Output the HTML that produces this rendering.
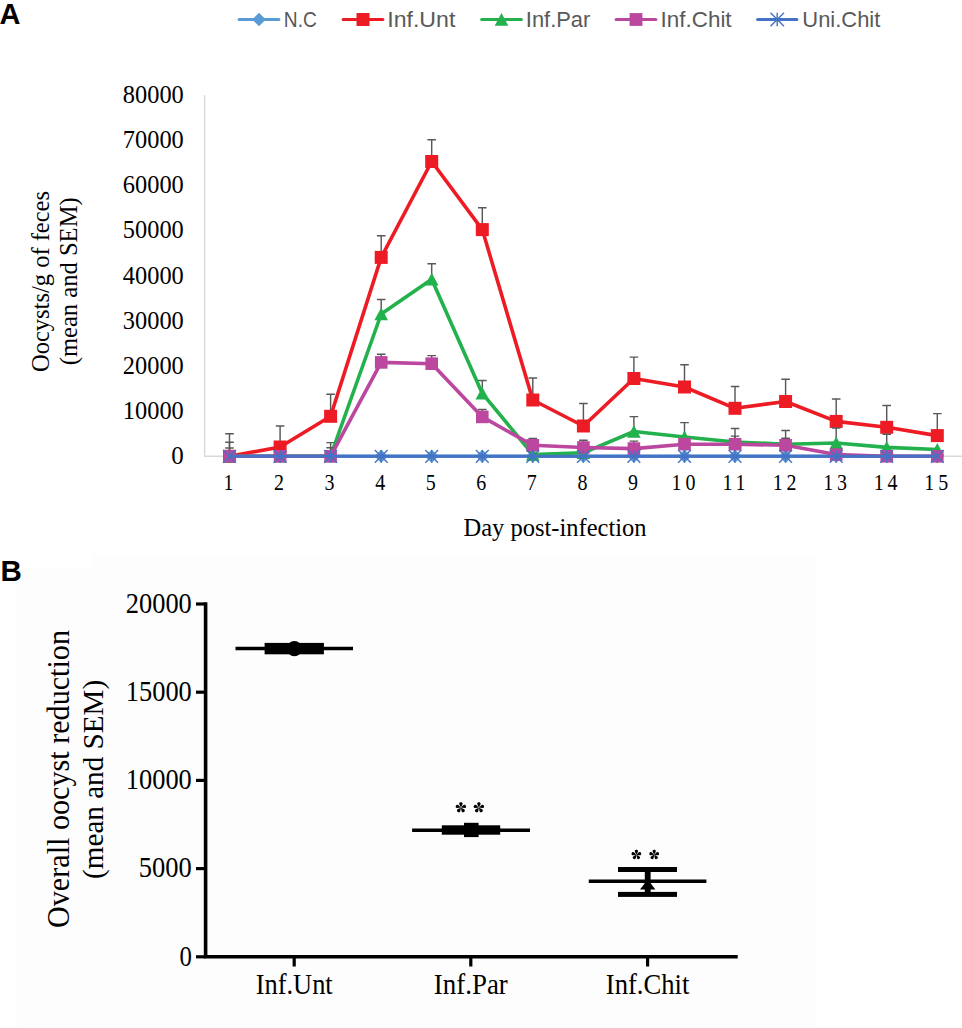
<!DOCTYPE html>
<html><head><meta charset="utf-8"><style>
html,body{margin:0;padding:0;background:#fff;}
body{width:962px;height:1028px;overflow:hidden;font-family:"Liberation Sans",sans-serif;}
svg{display:block;}
</style></head><body>
<svg width="962" height="1028" viewBox="0 0 962 1028">
<rect width="962" height="1028" fill="#fff"/>
<rect x="17" y="555.2" width="799.8" height="473" fill="#fdfdfd"/><rect x="0" y="540" width="92" height="29" fill="#fff"/><text x="0.6" y="580.6" font-family="Liberation Sans" font-size="29.5" fill="#000" font-weight="bold">B</text><path d="M205.6,602.3V956.8H737.7" stroke="#000" stroke-width="3.6" fill="none"/><line x1="196" y1="956.8" x2="205.6" y2="956.8" stroke="#000" stroke-width="3.2"/><text x="191.8" y="965.5" font-family="Liberation Serif" font-size="29.5" fill="#000" text-anchor="end" textLength="12.4" lengthAdjust="spacingAndGlyphs">0</text><line x1="196" y1="868.6" x2="205.6" y2="868.6" stroke="#000" stroke-width="3.2"/><text x="191.8" y="877.3" font-family="Liberation Serif" font-size="29.5" fill="#000" text-anchor="end" textLength="53" lengthAdjust="spacingAndGlyphs">5000</text><line x1="196" y1="780.4" x2="205.6" y2="780.4" stroke="#000" stroke-width="3.2"/><text x="191.8" y="789.1" font-family="Liberation Serif" font-size="29.5" fill="#000" text-anchor="end" textLength="66" lengthAdjust="spacingAndGlyphs">10000</text><line x1="196" y1="692.2" x2="205.6" y2="692.2" stroke="#000" stroke-width="3.2"/><text x="191.8" y="700.9" font-family="Liberation Serif" font-size="29.5" fill="#000" text-anchor="end" textLength="66" lengthAdjust="spacingAndGlyphs">15000</text><line x1="196" y1="604.0" x2="205.6" y2="604.0" stroke="#000" stroke-width="3.2"/><text x="191.8" y="612.7" font-family="Liberation Serif" font-size="29.5" fill="#000" text-anchor="end" textLength="66" lengthAdjust="spacingAndGlyphs">20000</text><line x1="294.2" y1="956.8" x2="294.2" y2="966.5" stroke="#000" stroke-width="3.2"/><text x="294.2" y="994.2" font-family="Liberation Serif" font-size="28.5" fill="#000" text-anchor="middle" textLength="77" lengthAdjust="spacingAndGlyphs">Inf.Unt</text><line x1="470.8" y1="956.8" x2="470.8" y2="966.5" stroke="#000" stroke-width="3.2"/><text x="470.8" y="994.2" font-family="Liberation Serif" font-size="28.5" fill="#000" text-anchor="middle" textLength="74" lengthAdjust="spacingAndGlyphs">Inf.Par</text><line x1="647.6" y1="956.8" x2="647.6" y2="966.5" stroke="#000" stroke-width="3.2"/><text x="647.6" y="994.2" font-family="Liberation Serif" font-size="28.5" fill="#000" text-anchor="middle" textLength="83.5" lengthAdjust="spacingAndGlyphs">Inf.Chit</text><text transform="translate(69.2,779) rotate(-90)" font-family="Liberation Serif" font-size="30.5" fill="#000" text-anchor="middle" textLength="298" lengthAdjust="spacingAndGlyphs">Overall oocyst reduction</text><text transform="translate(103.2,779.4) rotate(-90)" font-family="Liberation Serif" font-size="29.5" fill="#000" text-anchor="middle" textLength="199" lengthAdjust="spacingAndGlyphs">(mean and SEM)</text><line x1="235.5" y1="648.5" x2="353" y2="648.5" stroke="#000" stroke-width="3.6"/><rect x="264.6" y="642.9" width="59.3" height="11.4" fill="#000"/><circle cx="294.4" cy="648.6" r="7.6" fill="#000"/><line x1="412.1" y1="830.2" x2="530" y2="830.2" stroke="#000" stroke-width="3.6"/><rect x="441.8" y="825.3" width="58.4" height="9.4" fill="#000"/><rect x="464" y="822.8" width="14.6" height="14.3" fill="#000"/><line x1="588.8" y1="881.3" x2="706.4" y2="881.3" stroke="#000" stroke-width="3.6"/><rect x="618" y="867" width="59" height="5" fill="#000"/><rect x="618" y="891.9" width="59" height="5" fill="#000"/><rect x="644.8" y="869" width="5.8" height="25" fill="#000"/><path d="M647.7,879.5L655.4,889.6H640Z" fill="#000"/><path transform="translate(460.9,807.6) rotate(0)" d="M0,0C0.55,-1.65 1.98,-3.03 1.65,-4.40C1.32,-5.61 -1.32,-5.61 -1.65,-4.40C-1.98,-3.03 -0.55,-1.65 0,0Z" fill="#000"/><path transform="translate(460.9,807.6) rotate(72)" d="M0,0C0.55,-1.65 1.98,-3.03 1.65,-4.40C1.32,-5.61 -1.32,-5.61 -1.65,-4.40C-1.98,-3.03 -0.55,-1.65 0,0Z" fill="#000"/><path transform="translate(460.9,807.6) rotate(144)" d="M0,0C0.55,-1.65 1.98,-3.03 1.65,-4.40C1.32,-5.61 -1.32,-5.61 -1.65,-4.40C-1.98,-3.03 -0.55,-1.65 0,0Z" fill="#000"/><path transform="translate(460.9,807.6) rotate(216)" d="M0,0C0.55,-1.65 1.98,-3.03 1.65,-4.40C1.32,-5.61 -1.32,-5.61 -1.65,-4.40C-1.98,-3.03 -0.55,-1.65 0,0Z" fill="#000"/><path transform="translate(460.9,807.6) rotate(288)" d="M0,0C0.55,-1.65 1.98,-3.03 1.65,-4.40C1.32,-5.61 -1.32,-5.61 -1.65,-4.40C-1.98,-3.03 -0.55,-1.65 0,0Z" fill="#000"/><path transform="translate(478.9,807.6) rotate(0)" d="M0,0C0.55,-1.65 1.98,-3.03 1.65,-4.40C1.32,-5.61 -1.32,-5.61 -1.65,-4.40C-1.98,-3.03 -0.55,-1.65 0,0Z" fill="#000"/><path transform="translate(478.9,807.6) rotate(72)" d="M0,0C0.55,-1.65 1.98,-3.03 1.65,-4.40C1.32,-5.61 -1.32,-5.61 -1.65,-4.40C-1.98,-3.03 -0.55,-1.65 0,0Z" fill="#000"/><path transform="translate(478.9,807.6) rotate(144)" d="M0,0C0.55,-1.65 1.98,-3.03 1.65,-4.40C1.32,-5.61 -1.32,-5.61 -1.65,-4.40C-1.98,-3.03 -0.55,-1.65 0,0Z" fill="#000"/><path transform="translate(478.9,807.6) rotate(216)" d="M0,0C0.55,-1.65 1.98,-3.03 1.65,-4.40C1.32,-5.61 -1.32,-5.61 -1.65,-4.40C-1.98,-3.03 -0.55,-1.65 0,0Z" fill="#000"/><path transform="translate(478.9,807.6) rotate(288)" d="M0,0C0.55,-1.65 1.98,-3.03 1.65,-4.40C1.32,-5.61 -1.32,-5.61 -1.65,-4.40C-1.98,-3.03 -0.55,-1.65 0,0Z" fill="#000"/><path transform="translate(636.4,854.8) rotate(0)" d="M0,0C0.52,-1.56 1.87,-2.86 1.56,-4.16C1.25,-5.30 -1.25,-5.30 -1.56,-4.16C-1.87,-2.86 -0.52,-1.56 0,0Z" fill="#000"/><path transform="translate(636.4,854.8) rotate(72)" d="M0,0C0.52,-1.56 1.87,-2.86 1.56,-4.16C1.25,-5.30 -1.25,-5.30 -1.56,-4.16C-1.87,-2.86 -0.52,-1.56 0,0Z" fill="#000"/><path transform="translate(636.4,854.8) rotate(144)" d="M0,0C0.52,-1.56 1.87,-2.86 1.56,-4.16C1.25,-5.30 -1.25,-5.30 -1.56,-4.16C-1.87,-2.86 -0.52,-1.56 0,0Z" fill="#000"/><path transform="translate(636.4,854.8) rotate(216)" d="M0,0C0.52,-1.56 1.87,-2.86 1.56,-4.16C1.25,-5.30 -1.25,-5.30 -1.56,-4.16C-1.87,-2.86 -0.52,-1.56 0,0Z" fill="#000"/><path transform="translate(636.4,854.8) rotate(288)" d="M0,0C0.52,-1.56 1.87,-2.86 1.56,-4.16C1.25,-5.30 -1.25,-5.30 -1.56,-4.16C-1.87,-2.86 -0.52,-1.56 0,0Z" fill="#000"/><path transform="translate(654.2,854.8) rotate(0)" d="M0,0C0.52,-1.56 1.87,-2.86 1.56,-4.16C1.25,-5.30 -1.25,-5.30 -1.56,-4.16C-1.87,-2.86 -0.52,-1.56 0,0Z" fill="#000"/><path transform="translate(654.2,854.8) rotate(72)" d="M0,0C0.52,-1.56 1.87,-2.86 1.56,-4.16C1.25,-5.30 -1.25,-5.30 -1.56,-4.16C-1.87,-2.86 -0.52,-1.56 0,0Z" fill="#000"/><path transform="translate(654.2,854.8) rotate(144)" d="M0,0C0.52,-1.56 1.87,-2.86 1.56,-4.16C1.25,-5.30 -1.25,-5.30 -1.56,-4.16C-1.87,-2.86 -0.52,-1.56 0,0Z" fill="#000"/><path transform="translate(654.2,854.8) rotate(216)" d="M0,0C0.52,-1.56 1.87,-2.86 1.56,-4.16C1.25,-5.30 -1.25,-5.30 -1.56,-4.16C-1.87,-2.86 -0.52,-1.56 0,0Z" fill="#000"/><path transform="translate(654.2,854.8) rotate(288)" d="M0,0C0.52,-1.56 1.87,-2.86 1.56,-4.16C1.25,-5.30 -1.25,-5.30 -1.56,-4.16C-1.87,-2.86 -0.52,-1.56 0,0Z" fill="#000"/>
<text x="-0.5" y="24" font-family="Liberation Sans" font-size="29" fill="#000" font-weight="bold">A</text><line x1="239.2" y1="19.5" x2="278.8" y2="19.5" stroke="#5b9bd5" stroke-width="3.2" stroke-linecap="round"/><path d="M259.0,12.7L265.8,19.5L259.0,26.3L252.2,19.5Z" fill="#5b9bd5"/><text x="283.8" y="26.9" font-family="Liberation Sans" font-size="22.8" fill="#595959" textLength="33" lengthAdjust="spacingAndGlyphs">N.C</text><line x1="343.2" y1="19.5" x2="382.8" y2="19.5" stroke="#ed1c24" stroke-width="3.2" stroke-linecap="round"/><rect x="356.5" y="13.0" width="13.0" height="13.0" fill="#ed1c24"/><text x="387.3" y="26.9" font-family="Liberation Sans" font-size="22.8" fill="#595959" textLength="68" lengthAdjust="spacingAndGlyphs">Inf.Unt</text><line x1="481.7" y1="19.5" x2="521.3" y2="19.5" stroke="#22b14c" stroke-width="3.2" stroke-linecap="round"/><path d="M501.5,13.0L508.3,25.7L494.7,25.7Z" fill="#22b14c"/><text x="525.8" y="26.9" font-family="Liberation Sans" font-size="22.8" fill="#595959" textLength="64.5" lengthAdjust="spacingAndGlyphs">Inf.Par</text><line x1="616.2" y1="19.5" x2="655.8" y2="19.5" stroke="#bb479f" stroke-width="3.2" stroke-linecap="round"/><rect x="629.6" y="13.1" width="12.8" height="12.8" fill="#bb479f"/><text x="660.5999999999999" y="26.9" font-family="Liberation Sans" font-size="22.8" fill="#595959" textLength="71" lengthAdjust="spacingAndGlyphs">Inf.Chit</text><line x1="757.7" y1="19.5" x2="796.8" y2="19.5" stroke="#4472c4" stroke-width="3.2" stroke-linecap="round"/><path d="M777.2,12.7V26.3M770.5,12.7L784.0,26.3M770.5,26.3L784.0,12.7" stroke="#4472c4" stroke-width="1.4" fill="none"/><text x="802.3" y="26.9" font-family="Liberation Sans" font-size="22.8" fill="#595959" textLength="78" lengthAdjust="spacingAndGlyphs">Uni.Chit</text><path d="M204.6,95.2V456.3H962" stroke="#d9d9d9" stroke-width="1.4" fill="none"/><text x="183.8" y="464" font-family="Liberation Serif" font-size="25" fill="#000" text-anchor="end">0</text><text x="183.8" y="419" font-family="Liberation Serif" font-size="25" fill="#000" text-anchor="end" textLength="61" lengthAdjust="spacingAndGlyphs">10000</text><text x="183.8" y="374" font-family="Liberation Serif" font-size="25" fill="#000" text-anchor="end" textLength="61" lengthAdjust="spacingAndGlyphs">20000</text><text x="183.8" y="329" font-family="Liberation Serif" font-size="25" fill="#000" text-anchor="end" textLength="61" lengthAdjust="spacingAndGlyphs">30000</text><text x="183.8" y="284" font-family="Liberation Serif" font-size="25" fill="#000" text-anchor="end" textLength="61" lengthAdjust="spacingAndGlyphs">40000</text><text x="183.8" y="238" font-family="Liberation Serif" font-size="25" fill="#000" text-anchor="end" textLength="61" lengthAdjust="spacingAndGlyphs">50000</text><text x="183.8" y="193" font-family="Liberation Serif" font-size="25" fill="#000" text-anchor="end" textLength="61" lengthAdjust="spacingAndGlyphs">60000</text><text x="183.8" y="148" font-family="Liberation Serif" font-size="25" fill="#000" text-anchor="end" textLength="61" lengthAdjust="spacingAndGlyphs">70000</text><text x="183.8" y="103" font-family="Liberation Serif" font-size="25" fill="#000" text-anchor="end" textLength="61" lengthAdjust="spacingAndGlyphs">80000</text><g transform="scale(0.85,1)"><text x="268.82" y="490.3" font-family="Liberation Serif" font-size="23.5" fill="#000" text-anchor="middle">1</text><text x="328.30" y="490.3" font-family="Liberation Serif" font-size="23.5" fill="#000" text-anchor="middle">2</text><text x="387.78" y="490.3" font-family="Liberation Serif" font-size="23.5" fill="#000" text-anchor="middle">3</text><text x="447.25" y="490.3" font-family="Liberation Serif" font-size="23.5" fill="#000" text-anchor="middle">4</text><text x="506.73" y="490.3" font-family="Liberation Serif" font-size="23.5" fill="#000" text-anchor="middle">5</text><text x="566.21" y="490.3" font-family="Liberation Serif" font-size="23.5" fill="#000" text-anchor="middle">6</text><text x="625.68" y="490.3" font-family="Liberation Serif" font-size="23.5" fill="#000" text-anchor="middle">7</text><text x="685.16" y="490.3" font-family="Liberation Serif" font-size="23.5" fill="#000" text-anchor="middle">8</text><text x="744.64" y="490.3" font-family="Liberation Serif" font-size="23.5" fill="#000" text-anchor="middle">9</text><text x="806.36" y="490.3" font-family="Liberation Serif" font-size="23.5" fill="#000" text-anchor="middle" letter-spacing="4.5">10</text><text x="865.84" y="490.3" font-family="Liberation Serif" font-size="23.5" fill="#000" text-anchor="middle" letter-spacing="4.5">11</text><text x="925.31" y="490.3" font-family="Liberation Serif" font-size="23.5" fill="#000" text-anchor="middle" letter-spacing="4.5">12</text><text x="984.79" y="490.3" font-family="Liberation Serif" font-size="23.5" fill="#000" text-anchor="middle" letter-spacing="4.5">13</text><text x="1044.27" y="490.3" font-family="Liberation Serif" font-size="23.5" fill="#000" text-anchor="middle" letter-spacing="4.5">14</text><text x="1103.74" y="490.3" font-family="Liberation Serif" font-size="23.5" fill="#000" text-anchor="middle" letter-spacing="4.5">15</text></g><text x="555" y="535.6" font-family="Liberation Serif" font-size="24.4" fill="#000" text-anchor="middle" textLength="183" lengthAdjust="spacingAndGlyphs">Day post-infection</text><text transform="translate(48.7,281.5) rotate(-90)" font-family="Liberation Serif" font-size="25.5" fill="#000" text-anchor="middle" textLength="181" lengthAdjust="spacingAndGlyphs">Oocysts/g of feces</text><text transform="translate(77.3,281.3) rotate(-90)" font-family="Liberation Serif" font-size="25.5" fill="#000" text-anchor="middle" textLength="168" lengthAdjust="spacingAndGlyphs">(mean and SEM)</text><polyline points="229.5,456.3 280.1,456.3 330.6,456.3 381.2,456.3 431.7,456.3 482.3,456.3 532.8,456.3 583.4,456.3 633.9,456.3 684.5,456.3 735.0,456.3 785.6,456.3 836.2,456.3 886.7,456.3 937.3,456.3" fill="none" stroke="#5b9bd5" stroke-width="3.6" stroke-linejoin="round"/><path d="M229.5,449.5L236.3,456.3L229.5,463.1L222.7,456.3Z" fill="#5b9bd5"/><path d="M280.1,449.5L286.9,456.3L280.1,463.1L273.3,456.3Z" fill="#5b9bd5"/><path d="M330.6,449.5L337.4,456.3L330.6,463.1L323.8,456.3Z" fill="#5b9bd5"/><path d="M381.2,449.5L388.0,456.3L381.2,463.1L374.4,456.3Z" fill="#5b9bd5"/><path d="M431.7,449.5L438.5,456.3L431.7,463.1L424.9,456.3Z" fill="#5b9bd5"/><path d="M482.3,449.5L489.1,456.3L482.3,463.1L475.5,456.3Z" fill="#5b9bd5"/><path d="M532.8,449.5L539.6,456.3L532.8,463.1L526.0,456.3Z" fill="#5b9bd5"/><path d="M583.4,449.5L590.2,456.3L583.4,463.1L576.6,456.3Z" fill="#5b9bd5"/><path d="M633.9,449.5L640.7,456.3L633.9,463.1L627.1,456.3Z" fill="#5b9bd5"/><path d="M684.5,449.5L691.3,456.3L684.5,463.1L677.7,456.3Z" fill="#5b9bd5"/><path d="M735.0,449.5L741.8,456.3L735.0,463.1L728.2,456.3Z" fill="#5b9bd5"/><path d="M785.6,449.5L792.4,456.3L785.6,463.1L778.8,456.3Z" fill="#5b9bd5"/><path d="M836.2,449.5L843.0,456.3L836.2,463.1L829.4,456.3Z" fill="#5b9bd5"/><path d="M886.7,449.5L893.5,456.3L886.7,463.1L879.9,456.3Z" fill="#5b9bd5"/><path d="M937.3,449.5L944.1,456.3L937.3,463.1L930.5,456.3Z" fill="#5b9bd5"/><g stroke="#595959" stroke-width="1.45" fill="none"><path d="M229.5,456.3V433.8M225.2,433.8H233.8"/><path d="M280.1,447.0V426.0M275.8,426.0H284.4"/><path d="M330.6,416.3V394.2M326.3,394.2H334.9"/><path d="M381.2,257.4V235.7M376.9,235.7H385.5"/><path d="M431.7,161.5V139.7M427.4,139.7H436.0"/><path d="M482.3,229.6V207.8M478.0,207.8H486.6"/><path d="M532.8,400.0V378.0M528.5,378.0H537.1"/><path d="M583.4,426.0V403.5M579.1,403.5H587.7"/><path d="M633.9,378.5V357.1M629.6,357.1H638.2"/><path d="M684.5,387.0V364.7M680.2,364.7H688.8"/><path d="M735.0,408.3V386.4M730.8,386.4H739.3"/><path d="M785.6,401.5V379.3M781.3,379.3H789.9"/><path d="M836.2,421.4V399.0M831.9,399.0H840.5"/><path d="M886.7,427.3V405.4M882.4,405.4H891.0"/><path d="M937.3,435.6V413.6M933.0,413.6H941.6"/></g><polyline points="229.5,456.3 280.1,447.0 330.6,416.3 381.2,257.4 431.7,161.5 482.3,229.6 532.8,400.0 583.4,426.0 633.9,378.5 684.5,387.0 735.0,408.3 785.6,401.5 836.2,421.4 886.7,427.3 937.3,435.6" fill="none" stroke="#ed1c24" stroke-width="3.6" stroke-linejoin="round"/><rect x="223.0" y="449.8" width="13.0" height="13.0" fill="#ed1c24"/><rect x="273.6" y="440.5" width="13.0" height="13.0" fill="#ed1c24"/><rect x="324.1" y="409.8" width="13.0" height="13.0" fill="#ed1c24"/><rect x="374.7" y="250.9" width="13.0" height="13.0" fill="#ed1c24"/><rect x="425.2" y="155.0" width="13.0" height="13.0" fill="#ed1c24"/><rect x="475.8" y="223.1" width="13.0" height="13.0" fill="#ed1c24"/><rect x="526.3" y="393.5" width="13.0" height="13.0" fill="#ed1c24"/><rect x="576.9" y="419.5" width="13.0" height="13.0" fill="#ed1c24"/><rect x="627.4" y="372.0" width="13.0" height="13.0" fill="#ed1c24"/><rect x="678.0" y="380.5" width="13.0" height="13.0" fill="#ed1c24"/><rect x="728.5" y="401.8" width="13.0" height="13.0" fill="#ed1c24"/><rect x="779.1" y="395.0" width="13.0" height="13.0" fill="#ed1c24"/><rect x="829.7" y="414.9" width="13.0" height="13.0" fill="#ed1c24"/><rect x="880.2" y="420.8" width="13.0" height="13.0" fill="#ed1c24"/><rect x="930.8" y="429.1" width="13.0" height="13.0" fill="#ed1c24"/><g stroke="#595959" stroke-width="1.45" fill="none"><path d="M229.5,456.3V442.3M225.2,442.3H233.8"/><path d="M330.6,456.0V442.6M326.3,442.6H334.9"/><path d="M381.2,314.0V299.4M376.9,299.4H385.5"/><path d="M431.7,279.3V263.7M427.4,263.7H436.0"/><path d="M482.3,393.4V380.4M478.0,380.4H486.6"/><path d="M633.9,431.5V416.6M629.6,416.6H638.2"/><path d="M684.5,437.0V422.6M680.2,422.6H688.8"/><path d="M735.0,442.0V428.4M730.8,428.4H739.3"/><path d="M785.6,444.2V430.4M781.3,430.4H789.9"/><path d="M836.2,443.0V428.0M831.9,428.0H840.5"/><path d="M886.7,447.4V434.2M882.4,434.2H891.0"/></g><polyline points="229.5,456.3 280.1,456.3 330.6,456.0 381.2,314.0 431.7,279.3 482.3,393.4 532.8,454.5 583.4,452.8 633.9,431.5 684.5,437.0 735.0,442.0 785.6,444.2 836.2,443.0 886.7,447.4 937.3,449.5" fill="none" stroke="#22b14c" stroke-width="3.6" stroke-linejoin="round"/><path d="M229.5,449.8L236.3,462.5L222.7,462.5Z" fill="#22b14c"/><path d="M280.1,449.8L286.9,462.5L273.3,462.5Z" fill="#22b14c"/><path d="M330.6,449.5L337.4,462.2L323.8,462.2Z" fill="#22b14c"/><path d="M381.2,307.5L388.0,320.2L374.4,320.2Z" fill="#22b14c"/><path d="M431.7,272.8L438.5,285.5L424.9,285.5Z" fill="#22b14c"/><path d="M482.3,386.9L489.1,399.6L475.5,399.6Z" fill="#22b14c"/><path d="M532.8,448.0L539.6,460.7L526.0,460.7Z" fill="#22b14c"/><path d="M583.4,446.3L590.2,459.0L576.6,459.0Z" fill="#22b14c"/><path d="M633.9,425.0L640.7,437.7L627.1,437.7Z" fill="#22b14c"/><path d="M684.5,430.5L691.3,443.2L677.7,443.2Z" fill="#22b14c"/><path d="M735.0,435.5L741.8,448.2L728.2,448.2Z" fill="#22b14c"/><path d="M785.6,437.7L792.4,450.4L778.8,450.4Z" fill="#22b14c"/><path d="M836.2,436.5L843.0,449.2L829.4,449.2Z" fill="#22b14c"/><path d="M886.7,440.9L893.5,453.6L879.9,453.6Z" fill="#22b14c"/><path d="M937.3,443.0L944.1,455.7L930.5,455.7Z" fill="#22b14c"/><g stroke="#595959" stroke-width="1.45" fill="none"><path d="M229.5,456.3V448.0M225.2,448.0H233.8"/><path d="M330.6,456.3V447.7M326.3,447.7H334.9"/><path d="M381.2,362.4V354.2M376.9,354.2H385.5"/><path d="M431.7,363.7V355.6M427.4,355.6H436.0"/><path d="M482.3,416.9V409.4M478.0,409.4H486.6"/><path d="M532.8,445.3V438.4M528.5,438.4H537.1"/><path d="M583.4,447.5V440.2M579.1,440.2H587.7"/><path d="M633.9,448.6V441.1M629.6,441.1H638.2"/><path d="M735.0,444.2V436.1M730.8,436.1H739.3"/><path d="M785.6,445.3V438.2M781.3,438.2H789.9"/></g><polyline points="229.5,456.3 280.1,456.3 330.6,456.3 381.2,362.4 431.7,363.7 482.3,416.9 532.8,445.3 583.4,447.5 633.9,448.6 684.5,444.2 735.0,444.2 785.6,445.3 836.2,454.6 886.7,456.3 937.3,456.3" fill="none" stroke="#bb479f" stroke-width="3.6" stroke-linejoin="round"/><rect x="223.2" y="450.0" width="12.6" height="12.6" fill="#bb479f"/><rect x="273.8" y="450.0" width="12.6" height="12.6" fill="#bb479f"/><rect x="324.3" y="450.0" width="12.6" height="12.6" fill="#bb479f"/><rect x="374.9" y="356.1" width="12.6" height="12.6" fill="#bb479f"/><rect x="425.4" y="357.4" width="12.6" height="12.6" fill="#bb479f"/><rect x="476.0" y="410.6" width="12.6" height="12.6" fill="#bb479f"/><rect x="526.5" y="439.0" width="12.6" height="12.6" fill="#bb479f"/><rect x="577.1" y="441.2" width="12.6" height="12.6" fill="#bb479f"/><rect x="627.6" y="442.3" width="12.6" height="12.6" fill="#bb479f"/><rect x="678.2" y="437.9" width="12.6" height="12.6" fill="#bb479f"/><rect x="728.8" y="437.9" width="12.6" height="12.6" fill="#bb479f"/><rect x="779.3" y="439.0" width="12.6" height="12.6" fill="#bb479f"/><rect x="829.9" y="448.3" width="12.6" height="12.6" fill="#bb479f"/><rect x="880.4" y="450.0" width="12.6" height="12.6" fill="#bb479f"/><rect x="931.0" y="450.0" width="12.6" height="12.6" fill="#bb479f"/><polyline points="229.5,456.3 280.1,456.3 330.6,456.3 381.2,456.3 431.7,456.3 482.3,456.3 532.8,456.3 583.4,456.3 633.9,456.3 684.5,456.3 735.0,456.3 785.6,456.3 836.2,456.3 886.7,456.3 937.3,456.3" fill="none" stroke="#4472c4" stroke-width="3.0" stroke-linejoin="round"/><path d="M229.5,449.9V462.7M223.1,449.9L235.9,462.7M223.1,462.7L235.9,449.9" stroke="#4472c4" stroke-width="1.4" fill="none"/><path d="M280.1,449.9V462.7M273.7,449.9L286.5,462.7M273.7,462.7L286.5,449.9" stroke="#4472c4" stroke-width="1.4" fill="none"/><path d="M330.6,449.9V462.7M324.2,449.9L337.0,462.7M324.2,462.7L337.0,449.9" stroke="#4472c4" stroke-width="1.4" fill="none"/><path d="M381.2,449.9V462.7M374.8,449.9L387.6,462.7M374.8,462.7L387.6,449.9" stroke="#4472c4" stroke-width="1.4" fill="none"/><path d="M431.7,449.9V462.7M425.3,449.9L438.1,462.7M425.3,462.7L438.1,449.9" stroke="#4472c4" stroke-width="1.4" fill="none"/><path d="M482.3,449.9V462.7M475.9,449.9L488.7,462.7M475.9,462.7L488.7,449.9" stroke="#4472c4" stroke-width="1.4" fill="none"/><path d="M532.8,449.9V462.7M526.4,449.9L539.2,462.7M526.4,462.7L539.2,449.9" stroke="#4472c4" stroke-width="1.4" fill="none"/><path d="M583.4,449.9V462.7M577.0,449.9L589.8,462.7M577.0,462.7L589.8,449.9" stroke="#4472c4" stroke-width="1.4" fill="none"/><path d="M633.9,449.9V462.7M627.5,449.9L640.3,462.7M627.5,462.7L640.3,449.9" stroke="#4472c4" stroke-width="1.4" fill="none"/><path d="M684.5,449.9V462.7M678.1,449.9L690.9,462.7M678.1,462.7L690.9,449.9" stroke="#4472c4" stroke-width="1.4" fill="none"/><path d="M735.0,449.9V462.7M728.6,449.9L741.4,462.7M728.6,462.7L741.4,449.9" stroke="#4472c4" stroke-width="1.4" fill="none"/><path d="M785.6,449.9V462.7M779.2,449.9L792.0,462.7M779.2,462.7L792.0,449.9" stroke="#4472c4" stroke-width="1.4" fill="none"/><path d="M836.2,449.9V462.7M829.8,449.9L842.6,462.7M829.8,462.7L842.6,449.9" stroke="#4472c4" stroke-width="1.4" fill="none"/><path d="M886.7,449.9V462.7M880.3,449.9L893.1,462.7M880.3,462.7L893.1,449.9" stroke="#4472c4" stroke-width="1.4" fill="none"/><path d="M937.3,449.9V462.7M930.9,449.9L943.7,462.7M930.9,462.7L943.7,449.9" stroke="#4472c4" stroke-width="1.4" fill="none"/>
</svg>
</body></html>
